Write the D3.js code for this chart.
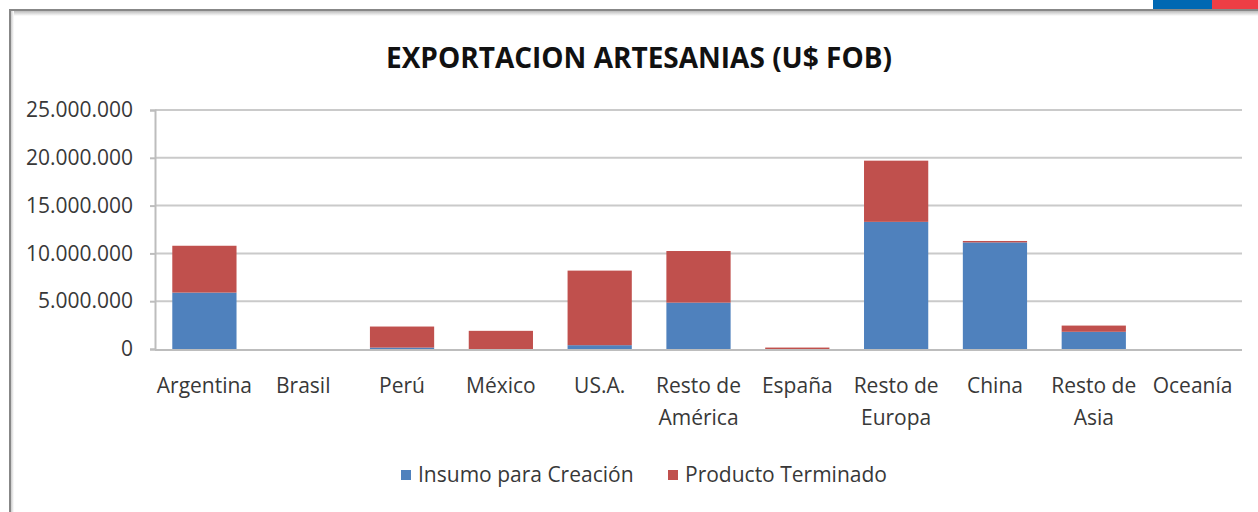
<!DOCTYPE html>
<html>
<head>
<meta charset="utf-8">
<script src="https://cdn.jsdelivr.net/npm/d3@7"></script>
<style>
	body { margin: 0; background: #fff; }
	svg { display: block; }
</style>
</head>
<body>
<svg id="chart"></svg>
<script>
// stacked columns, values in U$ FOB
const categories = ["Argentina", "Brasil", "Perú", "México", "US.A.", "Resto de América", "España", "Resto de Europa", "China", "Resto de Asia", "Oceanía"];
const insumo = [5900000, 0, 150000, 0, 400000, 4850000, 0, 13300000, 11150000, 1800000, 0];
const producto = [4900000, 0, 2200000, 1900000, 7800000, 5400000, 150000, 6400000, 150000, 650000, 0];
const seriesNames = ["Insumo para Creación", "Producto Terminado"];
const yTicks = [0, 5000000, 10000000, 15000000, 20000000, 25000000];

const WIDTH = 1258;
const HEIGHT = 512;
const colors = ["#4f81bd", "#c0504d"];
const font = "'Open Sans', sans-serif";
const textColor = "#383838";

const plot = { left: 155, right: 1242, top: 110, bottom: 349 };

const svg = d3.select("#chart")
	.attr("width", WIDTH)
	.attr("height", HEIGHT)
	.style("font-family", font);

// frame + flag strip at the top right
const defs = svg.append("defs");
const shadowV = defs.append("linearGradient").attr("id", "shV").attr("x1", 0).attr("x2", 0).attr("y1", 0).attr("y2", 1);
shadowV.append("stop").attr("offset", 0).attr("stop-color", "#bbb");
shadowV.append("stop").attr("offset", 1).attr("stop-color", "#fff");
const shadowH = defs.append("linearGradient").attr("id", "shH").attr("x1", 0).attr("x2", 1).attr("y1", 0).attr("y2", 0);
shadowH.append("stop").attr("offset", 0).attr("stop-color", "#ccc");
shadowH.append("stop").attr("offset", 1).attr("stop-color", "#fff");

svg.append("rect").attr("x", 10).attr("y", 11).attr("width", WIDTH - 10).attr("height", 5).attr("fill", "url(#shV)");
svg.append("rect").attr("x", 11).attr("y", 11).attr("width", 3).attr("height", HEIGHT - 11).attr("fill", "url(#shH)");
svg.append("path")
	.attr("d", `M10,${HEIGHT}V10H${WIDTH}`)
	.attr("fill", "none")
	.attr("stroke", "#878787")
	.attr("stroke-width", 2);

svg.append("rect").attr("x", 1153).attr("y", 0).attr("width", 59).attr("height", 9).attr("fill", "#0068b3");
svg.append("rect").attr("x", 1212).attr("y", 0).attr("width", WIDTH - 1212).attr("height", 9).attr("fill", "#ee3e45");

// title
svg.append("text")
	.attr("x", 639)
	.attr("y", 68)
	.attr("text-anchor", "middle")
	.style("font-size", "28px")
	.style("font-weight", "bold")
	.style("fill", "#111")
	.text("EXPORTACION ARTESANIAS (U$ FOB)");

// scales
const x = d3.scaleBand()
	.domain(categories)
	.range([plot.left, plot.right])
	.paddingInner(0.35)
	.paddingOuter(0.175);

const y = d3.scaleLinear()
	.domain([0, 25000000])
	.range([plot.bottom, plot.top]);

const fmt = d3.formatLocale({ decimal: ",", thousands: ".", grouping: [3], currency: ["$", ""] }).format(",d");

// gridlines
svg.append("g")
	.selectAll("line")
	.data(yTicks.slice(1))
	.join("line")
		.attr("x1", plot.left)
		.attr("x2", plot.right)
		.attr("y1", d => y(d))
		.attr("y2", d => y(d))
		.attr("stroke", "#cacaca")
		.attr("stroke-width", 2);

// y axis
svg.append("g")
	.attr("transform", `translate(${plot.left},0)`)
	.call(d3.axisLeft(y).tickValues(yTicks).tickFormat(fmt).tickSize(5).tickPadding(17))
	.call(g => g.select(".domain").attr("stroke", "#bdbdbd").attr("stroke-width", 2))
	.call(g => g.selectAll(".tick line").attr("stroke", "#bdbdbd").attr("stroke-width", 2))
	.call(g => g.selectAll(".tick text")
		.style("font-size", "21px")
		.style("font-family", font)
		.attr("fill", textColor));

// stacked bars
const table = categories.map((c, i) => ({ cat: c, insumo: insumo[i], producto: producto[i] }));
const stacked = d3.stack().keys(["insumo", "producto"])(table);

svg.append("g")
	.selectAll("g")
	.data(stacked)
	.join("g")
		.attr("fill", (d, i) => colors[i])
	.selectAll("rect")
	.data(d => d)
	.join("rect")
		.attr("x", d => x(d.data.cat))
		.attr("width", x.bandwidth())
		.attr("y", d => y(d[1]))
		.attr("height", d => y(d[0]) - y(d[1]));

// x axis line
svg.append("line")
	.attr("x1", plot.left)
	.attr("x2", plot.right)
	.attr("y1", plot.bottom + 1)
	.attr("y2", plot.bottom + 1)
	.attr("stroke", "#bdbdbd")
	.attr("stroke-width", 2);

// category labels, "Resto de" ones on two lines
const splitLabel = s => s.startsWith("Resto de ") ? ["Resto de", s.slice(9)] : [s];

svg.append("g")
	.selectAll("text")
	.data(categories)
	.join("text")
		.attr("x", d => x(d) + x.bandwidth() / 2)
		.attr("y", 393)
		.attr("text-anchor", "middle")
		.style("font-size", "21px")
		.style("fill", textColor)
		.selectAll("tspan")
		.data(d => splitLabel(d))
		.join("tspan")
			.attr("x", function () { return this.parentNode.getAttribute("x"); })
			.attr("dy", (d, i) => i ? 32 : 0)
			.text(d => d);

// legend
const legendX = [401, 668];
const legend = svg.append("g")
	.selectAll("g")
	.data(seriesNames)
	.join("g")
		.attr("transform", (d, i) => `translate(${legendX[i]},470)`);

legend.append("rect")
	.attr("width", 10)
	.attr("height", 10)
	.attr("fill", (d, i) => colors[i]);

legend.append("text")
	.attr("x", 17)
	.attr("y", 5)
	.attr("dy", "0.35em")
	.style("font-size", "21px")
	.style("fill", textColor)
	.text(d => d);
</script>
</body>
</html>
